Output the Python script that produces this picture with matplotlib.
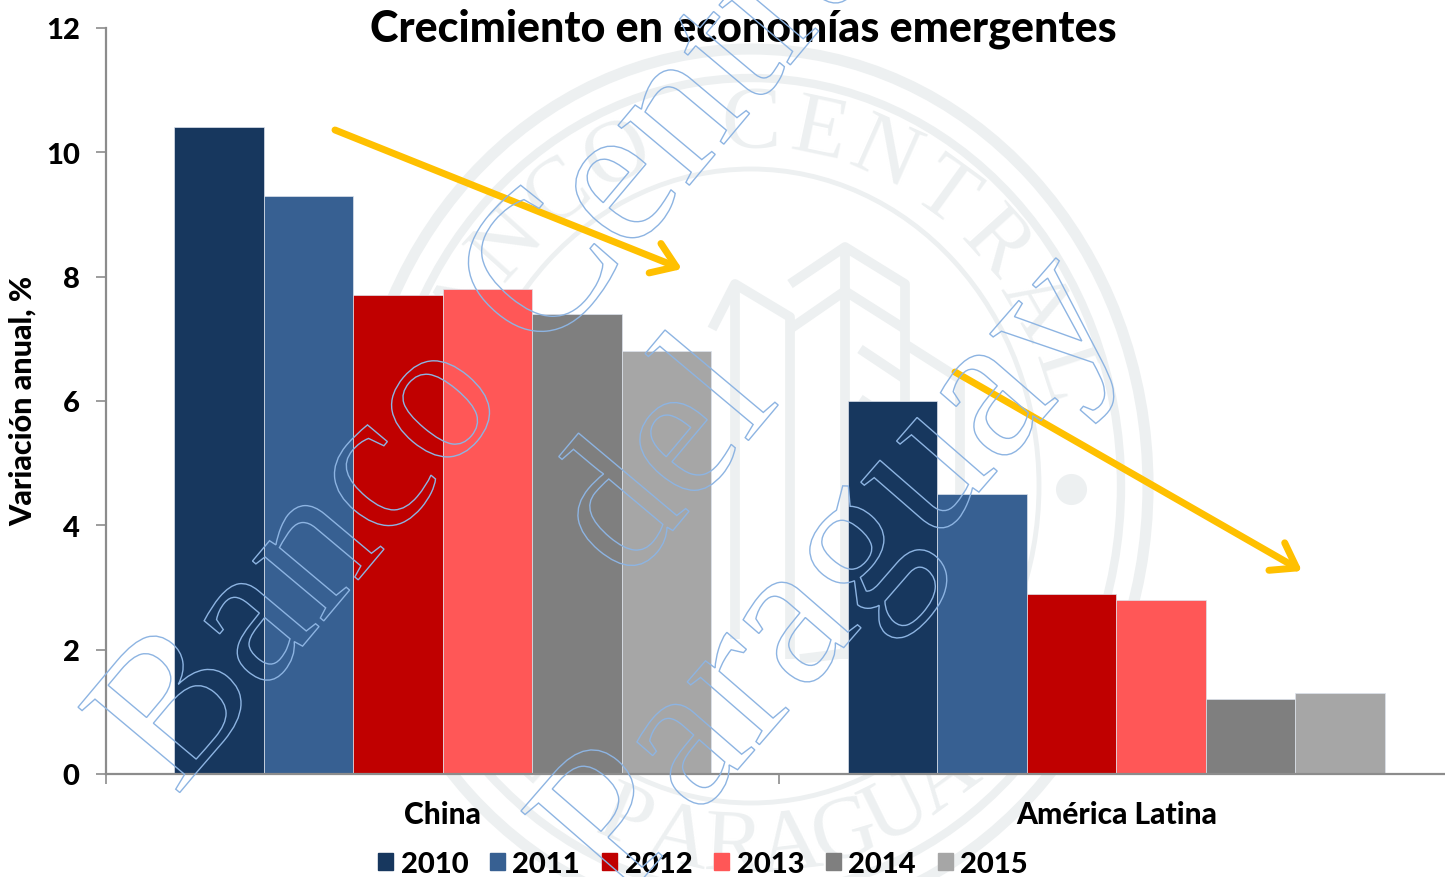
import numpy as np
import matplotlib
matplotlib.use("Agg")
import matplotlib.pyplot as plt
import matplotlib.patheffects as pe
from matplotlib.patches import Ellipse, Patch

categories = ["China", "América Latina"]
years = ["2010", "2011", "2012", "2013", "2014", "2015"]
china = [10.4, 9.3, 7.7, 7.8, 7.4, 6.8]
america_latina = [6.0, 4.5, 2.9, 2.8, 1.2, 1.3]
colors = ["#17375E", "#376092", "#C00000", "#FF5757", "#7F7F7F", "#A6A6A6"]
yticks = [0, 2, 4, 6, 8, 10, 12]

W, H = 1445, 878
SEAL = "#EDF0F1"
GOLD = "#FFC000"
OUTLINE = "#8DB4E2"
plt.rcParams["font.family"] = ["Lato", "DejaVu Sans"]
plt.rcParams["font.weight"] = "black"

fig = plt.figure(figsize=(W / 100, H / 100), dpi=100, facecolor="white")


def pixel_axes(zorder):
    overlay = fig.add_axes([0, 0, 1, 1], zorder=zorder)
    overlay.set_xlim(0, W)
    overlay.set_ylim(H, 0)
    overlay.axis("off")
    overlay.patch.set_alpha(0)
    return overlay


# seal behind the bars
seal = pixel_axes(0)
cx, cy = 751, 487
for rx, ry, lw in [(397, 437, 8), (370, 408, 6), (288, 317, 3.5)]:
    seal.add_patch(Ellipse((cx, cy), 2 * rx, 2 * ry, fill=False, ec=SEAL, lw=lw))
top_letters = list("BANCO CENTRAL")
for letter, angle in zip(top_letters, np.linspace(-72, 72, len(top_letters))):
    rad = np.radians(angle)
    seal.text(cx + 328 * np.sin(rad), cy - 362 * np.cos(rad), letter, family="Liberation Serif",
              fontsize=64, color=SEAL, weight="normal", rotation=-angle,
              ha="center", va="center", rotation_mode="anchor")
bottom_letters = list("DEL PARAGUAY")
for letter, angle in zip(bottom_letters, np.linspace(-62, 46, len(bottom_letters))):
    rad = np.radians(angle)
    seal.text(cx + 328 * np.sin(rad), cy + 362 * np.cos(rad), letter, family="Liberation Serif",
              fontsize=64, color=SEAL, weight="normal", rotation=angle,
              ha="center", va="center", rotation_mode="anchor")
building = [
    ([712, 735, 790, 790], [330, 285, 318, 660]),
    ([735, 735], [285, 640]),
    ([790, 845, 905, 905], [285, 248, 285, 650]),
    ([845, 845], [248, 660]),
    ([790, 845, 905], [330, 292, 330]),
    ([905, 960, 960], [345, 380, 640]),
    ([860, 905], [350, 380]),
    ([860, 905], [400, 430]),
    ([800, 960], [660, 640]),
]
for xs, ys in building:
    seal.plot(xs, ys, color=SEAL, lw=7, solid_capstyle="butt")
seal.scatter([1071], [490], s=500, color=SEAL, linewidths=0)

# main chart
left, right, top, bottom = 106, 1453, 29, 775
ax = fig.add_axes([left / W, 1 - bottom / H, (right - left) / W, (bottom - top) / H], zorder=1)
ax.patch.set_alpha(0)
bar_width = 0.798 / len(years)
offsets = (np.arange(len(years)) - (len(years) - 1) / 2) * bar_width
for i, year in enumerate(years):
    ax.bar(np.arange(len(categories)) + offsets[i], [china[i], america_latina[i]], bar_width,
           color=colors[i], edgecolor="#DDE3EC", linewidth=0.5, label=year)
ax.set_xlim(-0.5, 1.5)
ax.set_ylim(0, 12)
ax.spines[["top", "right"]].set_visible(False)
ax.spines[["left", "bottom"]].set_color("#8C8C8C")
ax.spines[["left", "bottom"]].set_linewidth(1.6)
ax.set_yticks(yticks)
ax.set_xticks([0, 1], categories)
ax.set_xticks([-0.5, 0.5, 1.5], minor=True)
ax.tick_params(axis="x", which="major", length=0, pad=19, labelsize=21.5)
ax.tick_params(axis="x", which="minor", length=7, width=1.2, color="#8C8C8C")
ax.tick_params(axis="y", length=7, width=1.2, color="#8C8C8C", pad=12, labelsize=21)
ax.set_ylabel("Variación anual, %", fontsize=22, fontweight="black")
ax.yaxis.set_label_coords((37 - left) / (right - left), (bottom - 401) / (bottom - top))

handles = [Patch(color=c, label=y) for c, y in zip(colors, years)]
fig.legend(handles=handles, ncol=6, frameon=False, fontsize=21, loc="center",
           bbox_to_anchor=(703 / W, 1 - 865 / H), handlelength=0.52, handleheight=0.52,
           handletextpad=0.25, columnspacing=0.75, borderpad=0)

fig.text(743 / W, 1 - 29 / H, "Crecimiento en economías emergentes", fontsize=31,
         fontweight="black", ha="center", va="center", zorder=5, color="black")

# arrows and outlined watermark on top
top_layer = pixel_axes(3)
for start, end in [((335, 131), (682, 270)), ((955, 373), (1302, 572))]:
    top_layer.annotate("", xy=end, xytext=start,
                       arrowprops=dict(arrowstyle="->,head_length=0.55,head_width=0.38", color=GOLD,
                                       lw=5, shrinkA=0, shrinkB=0, mutation_scale=30))

outline = [pe.PathPatchEffect(edgecolor=OUTLINE, facecolor="none", linewidth=1)]
for label, x, y, angle, size in [
    ("Banco Central", 176, 798, 50, 146),
    ("del", 628, 585, 50, 140),
    ("Paraguay", 620, 906, 49, 150),
]:
    fig.text(x / W, 1 - y / H, label, family="Liberation Serif", fontweight="normal", fontsize=size,
             rotation=angle, rotation_mode="anchor", ha="left", va="baseline",
             zorder=6, path_effects=outline)

fig.savefig("out.png", dpi=100)
